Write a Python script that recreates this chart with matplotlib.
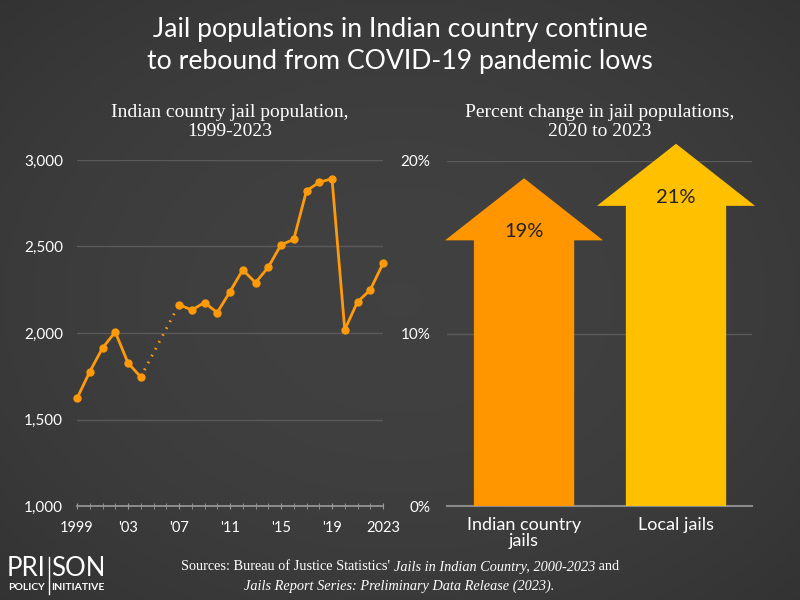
import numpy as np
import matplotlib.pyplot as plt
from matplotlib.patches import FancyArrow

# Indian country jail population (no survey for 2005, 2006)
years = [1999, 2000, 2001, 2002, 2003, 2004, 2007, 2008, 2009, 2010, 2011, 2012,
         2013, 2014, 2015, 2016, 2017, 2018, 2019, 2020, 2021, 2022, 2023]
population = [1622, 1776, 1913, 2006, 1827, 1746, 2164, 2133, 2176, 2118, 2239, 2365,
              2291, 2380, 2510, 2541, 2822, 2871, 2892, 2019, 2180, 2249, 2402]
year_ticks = [1999, 2003, 2007, 2011, 2015, 2019, 2023]
year_labels = ['1999', "'03", "'07", "'11", "'15", "'19", '2023']

# Percent change 2020 -> 2023
groups = ['Indian country\njails', 'Local jails']
pct_change = [19, 21]
pct_labels = ['19%', '21%']
arrow_colors = ['#ff9600', '#ffc000']

line_color = '#ff9a0a'
grid_color = '#5a5a5a'
text_color = 'white'
sans = ['Lato', 'DejaVu Sans']
serif = ['Liberation Serif', 'DejaVu Serif']

fig = plt.figure(figsize=(8, 6), dpi=100)

# dark vignette background
bg = fig.add_axes([0, 0, 1, 1], zorder=-10)
yy, xx = np.mgrid[-1:1:300j, -1:1:400j]
r2 = xx ** 2 + yy ** 2
g = np.clip(0.255 - 0.028 * r2, 0, 1)
bg.imshow(np.dstack([g, g, g]), aspect='auto', extent=[0, 1, 0, 1])
bg.axis('off')

# ---- left: line chart
ax = fig.add_axes([77 / 800, 1 - 506 / 600, 306 / 800, 346 / 600])
ax.set_facecolor('none')
ax.set_xlim(1999, 2023)
ax.set_ylim(1000, 3000)

gap = next(i for i in range(1, len(years)) if years[i] - years[i - 1] > 1)
ax.plot(years[:gap], population[:gap], color=line_color, lw=2, marker='o', ms=5,
        clip_on=False, zorder=3)
ax.plot(years[gap:], population[gap:], color=line_color, lw=2, marker='o', ms=5,
        clip_on=False, zorder=3)
ax.plot(years[gap - 1:gap + 1], population[gap - 1:gap + 1], color=line_color, lw=2,
        ls=(0, (0.6, 2.2)), zorder=3)

ax.set_yticks([1000, 1500, 2000, 2500, 3000])
ax.set_yticklabels(['1,000', '1,500', '2,000', '2,500', '3,000'])
ax.grid(axis='y', color=grid_color, lw=1)
ax.set_xticks(year_ticks)
ax.set_xticklabels(year_labels)
ax.set_xticks(range(1999, 2024), minor=True)
for s in ['top', 'right', 'left']:
    ax.spines[s].set_visible(False)
ax.spines['bottom'].set_color('#9a9a9a')
ax.spines['bottom'].set_linewidth(1.2)
ax.tick_params(axis='y', length=0, pad=10, labelsize=11, labelcolor=text_color)
ax.tick_params(axis='x', which='both', direction='inout', length=5, color='#9a9a9a',
               pad=8, labelsize=10.5, labelcolor=text_color)
for lab in ax.get_xticklabels() + ax.get_yticklabels():
    lab.set_family(sans)

# ---- right: arrows
ax2 = fig.add_axes([447 / 800, 1 - 506 / 600, 305 / 800, 345 / 600])
ax2.set_facecolor('none')
ax2.set_xlim(-0.507, 1.5)
ax2.set_ylim(0, 20)
for i, (v, c, lab) in enumerate(zip(pct_change, arrow_colors, pct_labels)):
    arr = FancyArrow(i, 0, 0, v, width=0.66, head_width=1.04, head_length=3.6,
                     length_includes_head=True, color=c, lw=0, clip_on=False, zorder=3)
    ax2.add_patch(arr)
    ax2.text(i, v - 3.1, lab, ha='center', va='center', fontsize=14.5, color='#222222',
             family=sans, zorder=4)
ax2.set_yticks([0, 10, 20])
ax2.set_yticklabels(['0%', '10%', '20%'])
ax2.grid(axis='y', color=grid_color, lw=1)
ax2.set_xticks([0, 1])
ax2.set_xticklabels(groups)
for s in ['top', 'right', 'left']:
    ax2.spines[s].set_visible(False)
ax2.spines['bottom'].set_color('#8a8a8a')
ax2.spines['bottom'].set_linewidth(1.5)
ax2.tick_params(axis='y', length=0, pad=12, labelsize=11, labelcolor=text_color)
ax2.tick_params(axis='x', length=0, pad=8, labelsize=13, labelcolor=text_color)
for lab in ax2.get_xticklabels() + ax2.get_yticklabels():
    lab.set_family(sans)
for lab in ax2.get_xticklabels():
    lab.set_linespacing(1.0)

# ---- titles
fig.text(0.5, 1 - 30 / 600, 'Jail populations in Indian country continue',
         ha='center', va='center', fontsize=19.2, color=text_color, family=sans)
fig.text(0.5, 1 - 62 / 600, 'to rebound from COVID-19 pandemic lows',
         ha='center', va='center', fontsize=19.2, color=text_color, family=sans)
fig.text(230 / 800, 1 - 122 / 600, 'Indian country jail population,\n1999-2023',
         ha='center', va='center', fontsize=14, color=text_color, family=serif,
         linespacing=1.1)
fig.text(600 / 800, 1 - 122 / 600, 'Percent change in jail populations,\n2020 to 2023',
         ha='center', va='center', fontsize=14, color=text_color, family=serif,
         linespacing=1.1)

# ---- sources (mixed roman / italic)
src_size = 10.3
fig.canvas.draw()
r = fig.canvas.get_renderer()
t1 = fig.text(0, 1 - 567 / 600, "Sources: Bureau of Justice Statistics' ",
              ha='left', va='center', fontsize=src_size, color=text_color, family=serif)
t2 = fig.text(0, 1 - 567 / 600, 'Jails in Indian Country, 2000-2023', ha='left',
              va='center', fontsize=src_size, color=text_color, family=serif, style='italic')
t3 = fig.text(0, 1 - 567 / 600, ' and', ha='left', va='center', fontsize=src_size,
              color=text_color, family=serif)
w = [t.get_window_extent(r).width for t in (t1, t2, t3)]
x0 = 400 - sum(w) / 2
for t, wi in zip((t1, t2, t3), w):
    t.set_x(x0 / 800)
    x0 += wi
fig.text(399 / 800, 1 - 586 / 600, 'Jails Report Series: Preliminary Data Release (2023).',
         ha='center', va='center', fontsize=src_size, color=text_color, family=serif,
         style='italic')

# ---- logo
fig.text(7 / 800, 1 - 568 / 600, 'PRI', ha='left', va='center', fontsize=18.5,
         color=text_color, family=sans)
fig.text(51 / 800, 1 - 568 / 600, 'SON', ha='left', va='center', fontsize=18.5,
         color=text_color, family=sans)
fig.text(8 / 800, 1 - 588 / 600, 'POLICY', ha='left', va='center', fontsize=7.5,
         color=text_color, family=sans, weight='bold')
fig.text(51 / 800, 1 - 588 / 600, 'INITIATIVE', ha='left', va='center', fontsize=7.5,
         color=text_color, family=sans, weight='bold')
fig.add_artist(plt.Line2D([48.5 / 800, 48.5 / 800], [1 - 594 / 600, 1 - 557 / 600],
                          color=text_color, lw=1))

fig.savefig('out.png', dpi=100)
